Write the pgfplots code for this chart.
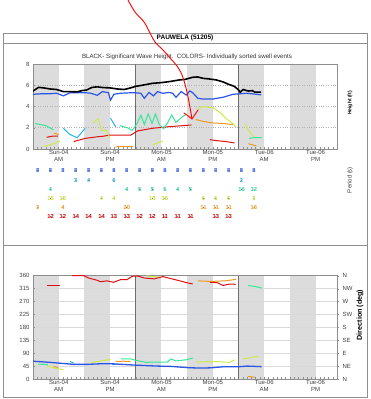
\documentclass[border=0pt]{standalone}
\usepackage{fontspec}
\setmainfont{Liberation Sans}
\usepackage{pgfplots}
\pgfplotsset{compat=1.18}
\definecolor{bandgray}{HTML}{DCDCDC}
\definecolor{framec}{HTML}{8E8E8E}
\definecolor{dayline}{HTML}{6E6E6E}
\definecolor{swblue}{HTML}{2A55E6}
\definecolor{swcyan}{HTML}{22B4E8}
\definecolor{swaqua}{HTML}{33E89A}
\definecolor{swyel}{HTML}{CCEA4A}
\definecolor{sworange}{HTML}{EE9A22}
\definecolor{swred}{HTML}{E01010}
\definecolor{tcyan}{HTML}{2AAAD0}
\definecolor{taqua}{HTML}{2FD49A}
\definecolor{tyel}{HTML}{C8D838}
\definecolor{tred}{HTML}{D00000}
\pgfplotsset{
  /pgf/number format/assume math mode=true,
  swbase/.style={
    scale only axis, width=304pt, xmin=0, xmax=71,
    set layers, clip=true,
    axis line style={framec, line width=0.6pt},
    tick label style={font=\fontsize{6}{7}\selectfont, text=black!75},
    xtick={6,18,30,42,54,66},
    xticklabels={{Sun-04\\AM},{Sun-04\\PM},{Mon-05\\AM},{Mon-05\\PM},{Tue-06\\AM},{Tue-06\\PM}},
    xticklabel style={align=center, inner sep=1pt},
    minor xtick={0,1,...,71},
    tick align=inside, major tick length=2pt, minor tick length=2pt,
    tick style={framec, line width=0.4pt},
    xtick pos=bottom, ytick pos=left,
  },
  band/.style={on layer=axis background, draw=none, fill=bandgray, forget plot},
  dayl/.style={dayline, line width=0.6pt, forget plot},
  ev/.style={#1, line width=1pt},
  trow/.style={only marks, mark=*, mark size=0.1pt, mark options={draw=none, fill=none},
    nodes near coords, point meta=explicit symbolic,
    nodes near coords style={anchor=center, inner sep=0pt, font=\fontsize{5.8}{6}\selectfont\bfseries, text=#1}},
}
\begin{document}
\begin{tikzpicture}[x=1pt,y=1pt]
% frame
\draw[framec, line width=0.8pt] (3,2) rectangle (367,366);
\draw[framec, line width=0.8pt] (3,356) -- (367,356);
\draw[framec, line width=0.8pt] (3,154) -- (367,154);
\node[font=\fontsize{6.5}{7}\selectfont\bfseries] at (185,361) {PAUWELA (51205)};
\node[font=\fontsize{6.2}{7}\selectfont, text=black!80] at (187,342) {BLACK- Significant Wave Height.\ \ COLORS- Individually sorted swell events};
\node[font=\fontsize{5}{6}\selectfont\bfseries, rotate=90] at (350,296) {Height (ft)};
\node[font=\fontsize{6}{6}\selectfont, text=black!75, rotate=90] at (350,219) {Period (s)};
\node[font=\fontsize{7.2}{8}\selectfont\bfseries, rotate=90] at (360,84) {Direction (deg)};

% ===== upper: heights =====
\begin{axis}[swbase, at={(33pt,250pt)}, anchor=south west, height=85pt,
  ymin=0, ymax=8, ytick={0,2,4,6,8},
  ymajorgrids, grid style={gray!60, dotted, line width=0.5pt}]
\addplot[band] coordinates {(0,0)(0,8)(6,8)(6,0)} -- cycle;
\addplot[band] coordinates {(12,0)(12,8)(18,8)(18,0)} -- cycle;
\addplot[band] coordinates {(24,0)(24,8)(30,8)(30,0)} -- cycle;
\addplot[band] coordinates {(36,0)(36,8)(42,8)(42,0)} -- cycle;
\addplot[band] coordinates {(48,0)(48,8)(54,8)(54,0)} -- cycle;
\addplot[band] coordinates {(60,0)(60,8)(66,8)(66,0)} -- cycle;
\addplot[dayl] coordinates {(24,0)(24,8)};
\addplot[dayl] coordinates {(48,0)(48,8)};
% swell events
\addplot[ev=swred] coordinates {(3.2,1.1)(4.4,1.2)(5.8,1.22)};
\addplot[ev=swred] coordinates {(9.5,0.7)(12.2,1.0)(15,1.15)(16.4,1.2)(17.7,1.3)(22.8,1.3)(24.4,1.7)(27.9,1.95)(31.8,2.1)(37,2.26)};
\addplot[ev=swred] coordinates {(41.3,0.88)(43,0.78)(45,0.7)(47.1,0.57)};
\addplot[ev=sworange] coordinates {(4.9,1.5)(6,1.35)};
\addplot[ev=sworange] coordinates {(19.3,0.2)(20.5,0.24)(21.8,0.22)(23.3,0.25)};
\addplot[ev=sworange] coordinates {(38,2.78)(39.7,2.6)(42,2.45)(44.4,2.4)(46.7,2.3)};
\addplot[ev=sworange] coordinates {(50.3,0.5)(52.2,0.28)};
\addplot[ev=swyel] coordinates {(2.5,0.25)(4.5,0.45)(6.3,0.75)};
\addplot[ev=swyel] coordinates {(14,2.45)(15.2,2.85)(16.1,1.7)(17,1.8)(18,1.0)};
\addplot[ev=swyel] coordinates {(28,0.4)(30.3,0.75)};
\addplot[ev=swyel] coordinates {(38.5,3.7)(39.5,4.0)(42,3.9)(43.8,3.4)(45.3,2.8)(46.4,2.5)(47.3,2.1)};
\addplot[ev=swyel] coordinates {(49.5,2.35)(50.3,1.8)(51.2,1.3)(51.7,1.1)};
\addplot[ev=swaqua] coordinates {(0.5,2.4)(3,2.2)(4.8,1.8)};
\addplot[ev=swaqua] coordinates {(20.3,2.2)(22,2.0)(23.2,1.75)(24.3,2.4)(25.2,3.2)(26,2.3)(26.9,3.3)(27.8,2.4)(28.6,3.3)(29.5,2.3)(30.5,1.9)(31.5,2.5)(32.4,3.2)(33.4,2.5)(34.5,2.9)(35.8,3.3)};
\addplot[ev=swaqua] coordinates {(50.5,1.0)(52,1.08)(53.4,1.08)};
\addplot[ev=swcyan] coordinates {(7.1,1.95)(8.5,1.4)(10.3,1.06)(12.2,1.95)};
\addplot[ev=swcyan] coordinates {(18.1,2.9)(19.3,2.1)};
\addplot[swblue, line width=1.2pt] coordinates {(0,5.15)(2,5.2)(4,5.2)(5.5,5.25)(7.1,5.0)(8.7,5.3)(10.5,5.3)(12.2,5.3)(13.5,5.25)(15,5.05)(16.2,5.4)(17.6,5.3)(18.1,4.6)(18.9,5.15)(20.5,5.25)(23.3,5.3)(25.2,5.25)(26,4.77)(27.1,5.33)(28.1,5.0)(29.1,5.4)(30.3,5.24)(31.8,5.33)(32.6,5.24)(33.4,4.87)(34.6,5.4)(35.8,5.08)(36.6,5.46)(37.3,5.3)(38.5,4.77)(39.7,4.7)(42,4.7)(44.4,4.87)(46.7,5.15)(49.8,5.24)(51,5.2)(53.3,5.1)};
\addplot[black, line width=1.6pt] coordinates {(0,5.45)(1.3,5.8)(2.5,5.75)(4,5.65)(5.5,5.6)(7.1,5.4)(8.5,5.4)(10.3,5.38)(11.5,5.5)(12.5,5.55)(13.8,5.8)(15,5.85)(16.4,5.78)(18,5.75)(19.7,5.65)(21.3,5.6)(22.8,5.75)(24,5.9)(25.5,6.0)(27.9,6.18)(30,6.25)(31.8,6.34)(34.2,6.5)(35.5,6.55)(37.3,6.75)(38.5,6.78)(39.7,6.65)(41,6.6)(42.8,6.5)(44.5,6.3)(45.6,6.1)(47,5.9)(47.9,5.6)(48.4,5.35)(49.1,5.6)(50.3,5.45)(51.2,5.5)(51.8,5.35)(53.3,5.35)};
\end{axis}

% ===== period table =====
\begin{axis}[scale only axis, width=304pt, height=60pt, at={(33pt,174pt)}, anchor=south west,
  xmin=0, xmax=71, ymin=-225, ymax=-165, hide axis, clip=false]
\addplot[trow=swblue] table[meta=t] {
x y t
1.1 -170.7 8
4.1 -170.7 8
7.0 -170.7 8
10.0 -170.7 8
13.0 -170.7 8
16.0 -170.7 8
18.9 -170.7 8
21.9 -170.7 8
24.9 -170.7 8
27.9 -170.7 8
30.8 -170.7 8
33.8 -170.7 8
36.8 -170.7 8
39.8 -170.7 8
42.7 -170.7 8
45.7 -170.7 8
48.7 -170.7 8
51.6 -170.7 8
};
\addplot[trow=tcyan] table[meta=t] {
x y t
10.0 -180.3 3
13.0 -180.3 4
18.9 -180.3 6
48.7 -180.3 2
};
\addplot[trow=taqua] table[meta=t] {
x y t
4.1 -189.3 4
21.9 -189.3 4
24.9 -189.3 5
27.9 -189.3 5
30.8 -189.3 5
33.8 -189.3 4
36.8 -189.3 5
48.7 -189.3 16
51.6 -189.3 12
};
\addplot[trow=tyel] table[meta=t] {
x y t
4.1 -198.3 15
7.0 -198.3 15
16.0 -198.3 4
18.9 -198.3 4
27.9 -198.3 15
30.8 -198.3 15
39.8 -198.3 6
42.7 -198.3 6
45.7 -198.3 6
51.6 -198.3 3
};
\addplot[trow=sworange] table[meta=t] {
x y t
1.1 -207.3 3
7.0 -207.3 4
21.9 -207.3 20
39.8 -207.3 11
42.7 -207.3 11
45.7 -207.3 11
51.6 -207.3 16
};
\addplot[trow=tred] table[meta=t] {
x y t
4.1 -216.7 12
7.0 -216.7 12
10.0 -216.7 14
13.0 -216.7 14
16.0 -216.7 14
18.9 -216.7 13
21.9 -216.7 13
24.9 -216.7 12
27.9 -216.7 12
30.8 -216.7 11
33.8 -216.7 11
36.8 -216.7 11
42.7 -216.7 13
45.7 -216.7 13
};
\end{axis}

% ===== lower: directions =====
\begin{axis}[swbase, at={(33pt,20pt)}, anchor=south west, height=103.3pt,
  ymin=0, ymax=360, ytick={0,45,...,360},
  ymajorgrids, grid style={gray!30, line width=0.5pt}]
\addplot[band] coordinates {(0,0)(0,360)(6,360)(6,0)} -- cycle;
\addplot[band] coordinates {(12,0)(12,360)(18,360)(18,0)} -- cycle;
\addplot[band] coordinates {(24,0)(24,360)(30,360)(30,0)} -- cycle;
\addplot[band] coordinates {(36,0)(36,360)(42,360)(42,0)} -- cycle;
\addplot[band] coordinates {(48,0)(48,360)(54,360)(54,0)} -- cycle;
\addplot[band] coordinates {(60,0)(60,360)(66,360)(66,0)} -- cycle;
\addplot[dayl] coordinates {(24,0)(24,360)};
\addplot[dayl] coordinates {(48,0)(48,360)};
\addplot[ev=swyel] coordinates {(3.2,46)(5.1,38)(7.1,32)};
\addplot[ev=swyel] coordinates {(13.4,57)(15.8,63)(18.1,68)};
\addplot[ev=swyel] coordinates {(26.5,359)(28,357)(29.5,355)};
\addplot[ev=swyel] coordinates {(38.1,59)(42.4,61)(45.9,58)(47.1,67)};
\addplot[ev=swyel] coordinates {(49.1,70)(52.6,79)};
\addplot[ev=swaqua] coordinates {(1.2,52)(3.5,50)};
\addplot[ev=swaqua] coordinates {(20.5,70)(22.8,70)(24,65)(26.4,58)(28.7,59)(31.4,59)(32.2,70)(33.4,63)(35.8,67)(37.3,73)};
\addplot[ev=swaqua] coordinates {(50.2,326)(52,322)(53.4,317)};
\addplot[ev=sworange] coordinates {(4.8,44)(5.9,40)};
\addplot[ev=sworange] coordinates {(19.3,61)(21,62)(22.8,61)};
\addplot[ev=sworange] coordinates {(38.5,342)(41.6,340)(44.7,342)(46.4,345)(47.5,348)};
\addplot[ev=sworange] coordinates {(50.2,9)(51.8,6)};
\addplot[ev=swcyan] coordinates {(8.7,61)(9.5,55)};
\addplot[ev=swcyan] coordinates {(18.5,50)(19.6,52)};
\addplot[ev=swred] coordinates {(3.2,326)(6.2,326)};
\addplot[ev=swred] coordinates {(9.1,360)(11.8,360)(13,352)(15,344)(15.7,339)(17.3,342)(18.8,337)(20.4,346)(21.9,346)(23.2,358)(24.4,359)(26,352)(28.3,349)(29.9,355)(30.3,357)(31.6,352)(33.8,344)(35.8,336)(37.3,331)};
\addplot[ev=swred] coordinates {(41.3,337)(43,336)(44.4,326)(45.9,331)(47.3,330)};
\addplot[swblue, line width=1.3pt] coordinates {(0,62)(4,58)(7.1,54)(9.5,51)(12.6,51)(15.7,53)(18.5,53)(22,50)(24.4,48)(29,45)(32.2,44)(35.7,40)(37,39)(39.3,38)(41.6,39)(44.7,43)(48.3,43)(50,45)(53.4,43)};
\end{axis}
\begin{axis}[scale only axis, width=304pt, height=103.3pt, at={(33pt,20pt)}, anchor=south west,
  xmin=0, xmax=71, ymin=0, ymax=360, hide x axis, axis y line*=right,
  axis line style={framec, line width=0.6pt},
  ytick={0,45,...,360}, yticklabels={N,NE,E,SE,S,SW,W,NW,N},
  tick align=outside, major tick length=2pt, tick style={framec},
  tick label style={font=\fontsize{6}{7}\selectfont, text=black!75}]
\addplot[draw=none, forget plot] coordinates {(0,0)};
\end{axis}

% red hand-drawn arrow
\draw[red, line width=0.9pt, line cap=round, line join=round] plot[smooth, tension=0.6] coordinates {(128,399)(135,387)(144,377)(150,366)(155,357)(163,349)(170,341)(177,333)(182,324)(186,311)(189,297)(192,280)};
\draw[red, line width=0.9pt, line cap=round, line join=round] (184,286) -- (192,280) -- (198,289);
\pgfresetboundingbox
\path[use as bounding box] (0,0) rectangle (370,399);
\end{tikzpicture}
\end{document}
